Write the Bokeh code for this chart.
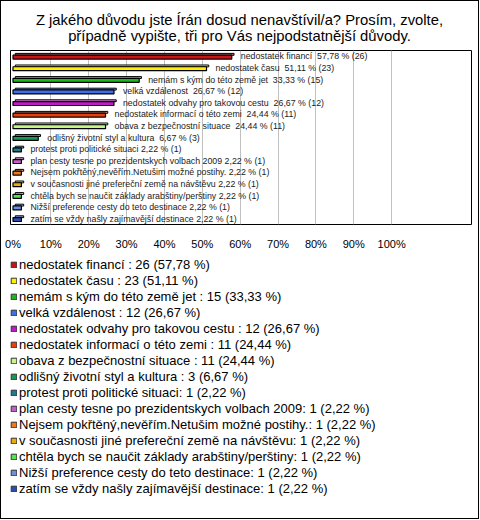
from bokeh.plotting import figure
from bokeh.layouts import column
from bokeh.models import Range1d, FixedTicker, Legend, LegendItem, ColumnDataSource, Div
from bokeh.embed import file_html
from bokeh.resources import INLINE
from bokeh.core.properties import value

# ---- data ----
title_lines = [
    "Z jakého důvodu jste Írán dosud nenavštívil/a? Prosím, zvolte,",
    "případně vypište, tři pro Vás nejpodstatnější důvody.",
]
names = [
    "nedostatek financí ",
    "nedostatek času ",
    "nemám s kým do této země jet ",
    "velká vzdálenost ",
    "nedostatek odvahy pro takovou cestu ",
    "nedostatek informací o této zemi ",
    "obava z bezpečnostní situace ",
    "odlišný životní styl a kultura ",
    "protest proti politické situaci",
    "plan cesty tesne po prezidentskych volbach 2009",
    "Nejsem pokřtěný,nevěřím.Netušim možné postihy.",
    "v současnosti jiné prefereční země na návštěvu",
    "chtěla bych se naučit základy arabštiny/perštiny",
    "Nižší preference cesty do teto destinace",
    "zatím se vždy našly zajímavější destinace",
]
counts = [26, 23, 15, 12, 12, 11, 11, 3, 1, 1, 1, 1, 1, 1, 1]
percents = [57.78, 51.11, 33.33, 26.67, 26.67, 24.44, 24.44, 6.67,
            2.22, 2.22, 2.22, 2.22, 2.22, 2.22, 2.22]
colors = ["#C81414", "#FFEE00", "#1DB81D", "#3F6FE8", "#C118C8",
          "#E8400C", "#C8F58A", "#159A55", "#1E7B8E", "#C85CC8",
          "#F07818", "#EBAA0A", "#4EE84E", "#6F8EDC", "#2B4DB0"]
x_ticks = [0, 10, 20, 30, 40, 50, 60, 70, 80, 90, 100]
x_tick_labels = ["0%", "10%", "20%", "30%", "40%", "50%", "60%", "70%",
                 "80%", "90%", "100%"]

FONT = "Liberation Sans"


def fmt(v):
    return f"{v:.2f}".replace(".", ",")


def lighten(c, f=0.45):
    r, g, b = int(c[1:3], 16), int(c[3:5], 16), int(c[5:7], 16)
    r, g, b = [int(v + (255 - v) * f) for v in (r, g, b)]
    return f"#{r:02x}{g:02x}{b:02x}"


idx = list(range(len(names)))
bar_labels = [f"{n}\u00a0{fmt(p)} % ({c})" for n, p, c in zip(names, percents, counts)]
legend_labels = [f"{n}: {c} ({fmt(p)} %)" for n, p, c in zip(names, percents, counts)]

src = ColumnDataSource(dict(
    y=idx,
    y_front=[i + 0.07 for i in idx],
    y_top=[i - 0.17 for i in idx],
    val=percents,
    val_top=[p + 0.6 for p in percents],
    color=colors,
    light=[lighten(c) for c in colors],
    label=bar_labels,
))

# ---------------- title ----------------
title = Div(
    text=('<div style="width:477px;height:48px;box-sizing:border-box;'
          'padding-top:12px;text-align:center;'
          'font-family:\'Liberation Sans\';font-size:14.8px;line-height:15.5px;'
          'color:black;">' + "<br>".join(title_lines) + '</div>'),
    width=477, height=48, margin=0,
    styles={"background-color": "white"},
)

# ---------------- bar chart ----------------
p = figure(width=477, height=203, output_backend="svg", toolbar_location=None,
           x_range=Range1d(-0.66, 121.1), y_range=Range1d(14.5, -0.5),
           y_axis_location=None, title=None,
           min_border_left=9, min_border_right=7, min_border_top=1,
           min_border_bottom=22)
p.background_fill_color = "white"
p.border_fill_color = "white"
p.outline_line_color = "black"
p.outline_line_width = 1
p.outline_line_alpha = 1

p.xgrid.ticker = FixedTicker(ticks=x_ticks[1:])
p.xgrid.grid_line_color = "#C0C0C0"
p.ygrid.visible = False

ax = p.xaxis[0]
ax.ticker = FixedTicker(ticks=x_ticks)
ax.major_label_overrides = {t: l for t, l in zip(x_ticks, x_tick_labels)}
ax.axis_line_color = None
ax.major_tick_line_color = None
ax.minor_tick_line_color = None
ax.major_label_text_font = FONT
ax.major_label_text_font_size = "11px"
ax.major_label_text_color = "black"
ax.major_label_standoff = 7

# 3D-ish bars: top face then front face
p.hbar(y="y_top", left=0.6, right="val_top", height=0.16, source=src,
       fill_color="light", line_color="black", line_width=1)
p.hbar(y="y_front", left=0, right="val", height=0.34, source=src,
       fill_color="color", line_color="black", line_width=1.2)

p.text(x="val", y="y", text="label", source=src, x_offset=9,
       text_align="left", text_baseline="middle",
       text_font=value(FONT), text_font_size="8.8px",
       text_color="#1a1a1a")

# ---------------- legend panel ----------------
q = figure(width=477, height=266, output_backend="svg", toolbar_location=None,
           x_range=Range1d(0, 1), y_range=Range1d(100, 101),
           x_axis_location=None, y_axis_location=None,
           min_border_left=9, min_border_right=0, min_border_top=5,
           min_border_bottom=0)
q.grid.visible = False
q.outline_line_color = None
q.background_fill_color = "white"
q.border_fill_color = "white"
swatch = q.hbar(y="y", left=0, right="val", height=0.5, source=src,
                fill_color="color", line_color="#333333", line_width=1)

legend = Legend(
    items=[LegendItem(label=legend_labels[i], renderers=[swatch], index=i) for i in idx],
    location="top_left", orientation="vertical",
    border_line_color=None, background_fill_alpha=0,
    label_text_font=FONT, label_text_font_size="13px",
    label_text_color="black",
    glyph_width=7, glyph_height=7, label_height=15, spacing=1,
    padding=0, margin=0, label_standoff=2,
)
q.add_layout(legend, "center")

page = column(title, p, q, spacing=0, styles={"border": "1px solid black"})

open("out.html", "w").write(file_html(page, INLINE))
